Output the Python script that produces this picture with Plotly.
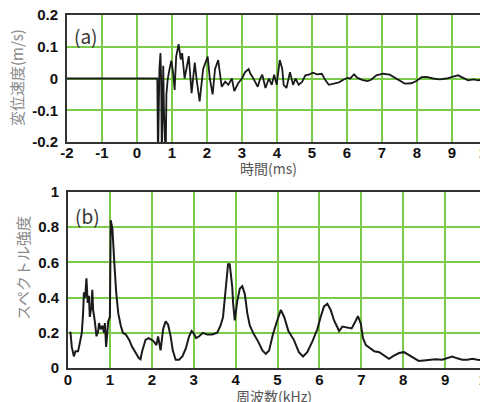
import plotly.graph_objects as go

# ---- (a) time waveform ----
time_ms = [-2.0, 0.0, 0.58, 0.60, 0.62, 0.64, 0.67, 0.69, 0.71, 0.73, 0.75, 0.77, 0.79, 0.82, 0.84,
           0.88, 0.93, 0.98, 1.03, 1.075, 1.12, 1.19, 1.25, 1.29, 1.36, 1.41, 1.48, 1.56, 1.60, 1.65,
           1.70, 1.79, 1.89, 2.02, 2.08, 2.16, 2.23, 2.32, 2.42, 2.52, 2.61, 2.71, 2.78, 2.89, 3.0,
           3.09, 3.19, 3.24, 3.30, 3.38, 3.45, 3.52, 3.58, 3.67, 3.77, 3.85, 3.92, 3.99, 4.08, 4.15,
           4.19, 4.27, 4.37, 4.46, 4.53, 4.62, 4.72, 4.81, 4.91, 5.03, 5.14, 5.28, 5.38, 5.48, 5.62,
           5.77, 5.91, 6.01, 6.09, 6.2, 6.3, 6.45, 6.59, 6.69, 6.84, 7.03, 7.22, 7.37, 7.51, 7.65,
           7.84, 7.98, 8.13, 8.27, 8.46, 8.65, 8.84, 9.05, 9.17, 9.32, 9.46, 9.61, 9.75, 9.9, 10.0]
velocity = [0.0, 0.0, 0.0, -0.26, -0.08, 0.03, 0.08, 0.0, -0.26, -0.04, 0.04, -0.1, -0.26, -0.26, -0.05,
            0.0, 0.03, 0.056, 0.02, -0.036, 0.07, 0.108, 0.06, 0.08, 0.0, 0.03, 0.07, -0.046, -0.01, 0.05,
            0.0, -0.072, 0.03, 0.069, 0.0, -0.05, 0.03, 0.058, -0.026, -0.01, -0.02, 0.0, -0.04, -0.015, 0.0,
            0.02, 0.03, 0.015, 0.005, -0.01, -0.026, 0.0, 0.012, -0.03, 0.0, -0.02, 0.012, -0.02, 0.058, 0.03,
            -0.02, -0.03, 0.02, -0.02, 0.0, -0.02, -0.01, 0.01, 0.012, 0.018, 0.013, 0.015, -0.005, -0.02, -0.017,
            -0.012, -0.003, 0.002, 0.0, 0.013, 0.002, -0.005, -0.008, -0.004, 0.01, 0.015, 0.012, 0.002, -0.008, -0.016,
            -0.015, -0.008, 0.004, 0.005, 0.0, -0.003, 0.0, 0.007, 0.01, 0.002, -0.006, -0.003, -0.006, -0.002, -0.004]

# ---- (b) spectrum ----
freq_khz = [0.03, 0.06, 0.09, 0.14, 0.18, 0.24, 0.28, 0.33, 0.36, 0.38, 0.41, 0.44, 0.47, 0.50, 0.52,
            0.56, 0.58, 0.60, 0.64, 0.68, 0.72, 0.74, 0.78, 0.82, 0.86, 0.88, 0.91, 0.94, 0.96, 1.0,
            1.02, 1.06, 1.08, 1.11, 1.15, 1.20, 1.26, 1.31, 1.38, 1.46, 1.53, 1.61, 1.69, 1.73, 1.77,
            1.85, 1.92, 2.0, 2.05, 2.11, 2.15, 2.21, 2.27, 2.33, 2.39, 2.45, 2.5, 2.57, 2.65, 2.73,
            2.81, 2.89, 2.95, 2.99, 3.06, 3.13, 3.22, 3.32, 3.44, 3.56, 3.64, 3.70, 3.75, 3.78, 3.82,
            3.86, 3.90, 3.92, 3.94, 3.98, 4.04, 4.10, 4.16, 4.22, 4.28, 4.34, 4.44, 4.54, 4.64, 4.72,
            4.80, 4.89, 4.98, 5.08, 5.16, 5.26, 5.39, 5.51, 5.61, 5.71, 5.83, 5.95, 6.03, 6.11, 6.19,
            6.27, 6.35, 6.47, 6.55, 6.67, 6.77, 6.87, 6.92, 6.99, 7.04, 7.11, 7.19, 7.31, 7.43, 7.55,
            7.66, 7.78, 7.90, 8.02, 8.13, 8.25, 8.37, 8.49, 8.61, 8.77, 8.93, 9.05, 9.17, 9.29, 9.41,
            9.53, 9.65, 9.77, 9.89, 9.98]
intensity = [0.2, 0.2, 0.12, 0.066, 0.095, 0.095, 0.14, 0.2, 0.31, 0.43, 0.40, 0.51, 0.37, 0.41, 0.29,
             0.35, 0.445, 0.33, 0.265, 0.18, 0.21, 0.255, 0.22, 0.24, 0.2, 0.255, 0.12, 0.24, 0.265, 0.29,
             0.84, 0.79, 0.67, 0.58, 0.43, 0.31, 0.24, 0.2, 0.19, 0.16, 0.12, 0.085, 0.057, 0.05, 0.095,
             0.16, 0.17, 0.16, 0.15, 0.13, 0.18, 0.10, 0.22, 0.265, 0.246, 0.18, 0.10, 0.047, 0.047, 0.066,
             0.11, 0.18, 0.21, 0.20, 0.17, 0.18, 0.20, 0.19, 0.19, 0.20, 0.24, 0.29, 0.41, 0.52, 0.59,
             0.59, 0.52, 0.46, 0.37, 0.27, 0.38, 0.45, 0.465, 0.42, 0.31, 0.24, 0.19, 0.15, 0.10, 0.08,
             0.10, 0.19, 0.26, 0.33, 0.29, 0.21, 0.16, 0.09, 0.065, 0.09, 0.15, 0.22, 0.29, 0.35, 0.365,
             0.33, 0.27, 0.21, 0.235, 0.23, 0.225, 0.27, 0.295, 0.25, 0.17, 0.13, 0.115, 0.095, 0.09, 0.07,
             0.052, 0.07, 0.085, 0.09, 0.075, 0.055, 0.04, 0.043, 0.047, 0.05, 0.047, 0.055, 0.065, 0.055, 0.047,
             0.047, 0.052, 0.047, 0.043, 0.04]

# ---- tick labels ----
a_xticks = [-2, -1, 0, 1, 2, 3, 4, 5, 6, 7, 8, 9, 10]
a_xlabels = ["-2", "-1", "0", "1", "2", "3", "4", "5", "6", "7", "8", "9", "10"]
a_yticks = [-0.2, -0.1, 0, 0.1, 0.2]
a_ylabels = ["-0.2", "-0.1", "0", "0.1", "0.2"]
b_xticks = [0, 1, 2, 3, 4, 5, 6, 7, 8, 9, 10]
b_xlabels = ["0", "1", "2", "3", "4", "5", "6", "7", "8", "9", "10"]
b_yticks = [0, 0.2, 0.4, 0.6, 0.8, 1.0]
b_ylabels = ["0", "0.2", "0.4", "0.6", "0.8", "1"]

# page is rendered with the default 8px body margin, so the figure is offset
OFF = 8
W, H = 488 - OFF, 402 - OFF
def px(x):
    return (x - OFF) / W
def py(y):
    return 1 - (y - OFF) / H

GRID = "#7acc4a"
BORDER = "#333333"
tickfont = dict(family="Liberation Sans, Arial", size=15, color="#111111", weight="bold")

fig = go.Figure()
fig.add_trace(go.Scatter(x=time_ms, y=velocity, mode="lines",
                         line=dict(color="#1a1a1a", width=1.8), xaxis="x", yaxis="y",
                         showlegend=False))
fig.add_trace(go.Scatter(x=freq_khz, y=intensity, mode="lines",
                         line=dict(color="#1a1a1a", width=2), xaxis="x2", yaxis="y2",
                         showlegend=False))

axcommon = dict(showgrid=True, gridcolor=GRID, gridwidth=2, zeroline=False,
                showline=True, linecolor=BORDER, linewidth=2, mirror=True,
                tickfont=tickfont, ticks="", fixedrange=True, automargin=False,
                ticklabeloverflow="allow")

fig.update_layout(
    width=W, height=H,
    margin=dict(l=0, r=0, t=0, b=0),
    paper_bgcolor="white", plot_bgcolor="white",
    xaxis=dict(domain=[px(67), px(487)], range=[-2, 10], anchor="y",
               tickvals=a_xticks, ticktext=a_xlabels, ticklabelstandoff=-4, **axcommon),
    yaxis=dict(domain=[py(142), py(15)], range=[-0.2, 0.2], anchor="x",
               tickvals=a_yticks, ticktext=a_ylabels, ticklabelstandoff=4, **axcommon),
    xaxis2=dict(domain=[px(68), px(487)], range=[0, 10], anchor="y2",
                tickvals=b_xticks, ticktext=b_xlabels, ticklabelstandoff=-3, **axcommon),
    yaxis2=dict(domain=[py(368), py(192)], range=[0, 1], anchor="x2",
                tickvals=b_yticks, ticktext=b_ylabels, ticklabelstandoff=4, **axcommon),
)

jp = "Noto Sans CJK JP"
annots = [
    dict(x=px(86), y=py(35), text="(a)", font=dict(family=jp, size=19, color="#333333")),
    dict(x=px(87), y=py(215), text="(b)", font=dict(family=jp, size=19, color="#333333")),
    dict(x=px(268), y=py(168), text="時間(ms)", font=dict(family=jp, size=14, color="#555555")),
    dict(x=px(274), y=py(396), text="周波数(kHz)", font=dict(family=jp, size=14, color="#555555")),
    dict(x=px(17), y=py(78), text="変位速度(m/s)", textangle=-90, font=dict(family=jp, size=15, color="#8a8a8a")),
    dict(x=px(22), y=py(268), text="スペクトル強度", textangle=-90, font=dict(family=jp, size=15, color="#8a8a8a")),
]
for a in annots:
    fig.add_annotation(xref="paper", yref="paper", showarrow=False,
                       xanchor="center", yanchor="middle", **a)

fig.write_html("out.html")
